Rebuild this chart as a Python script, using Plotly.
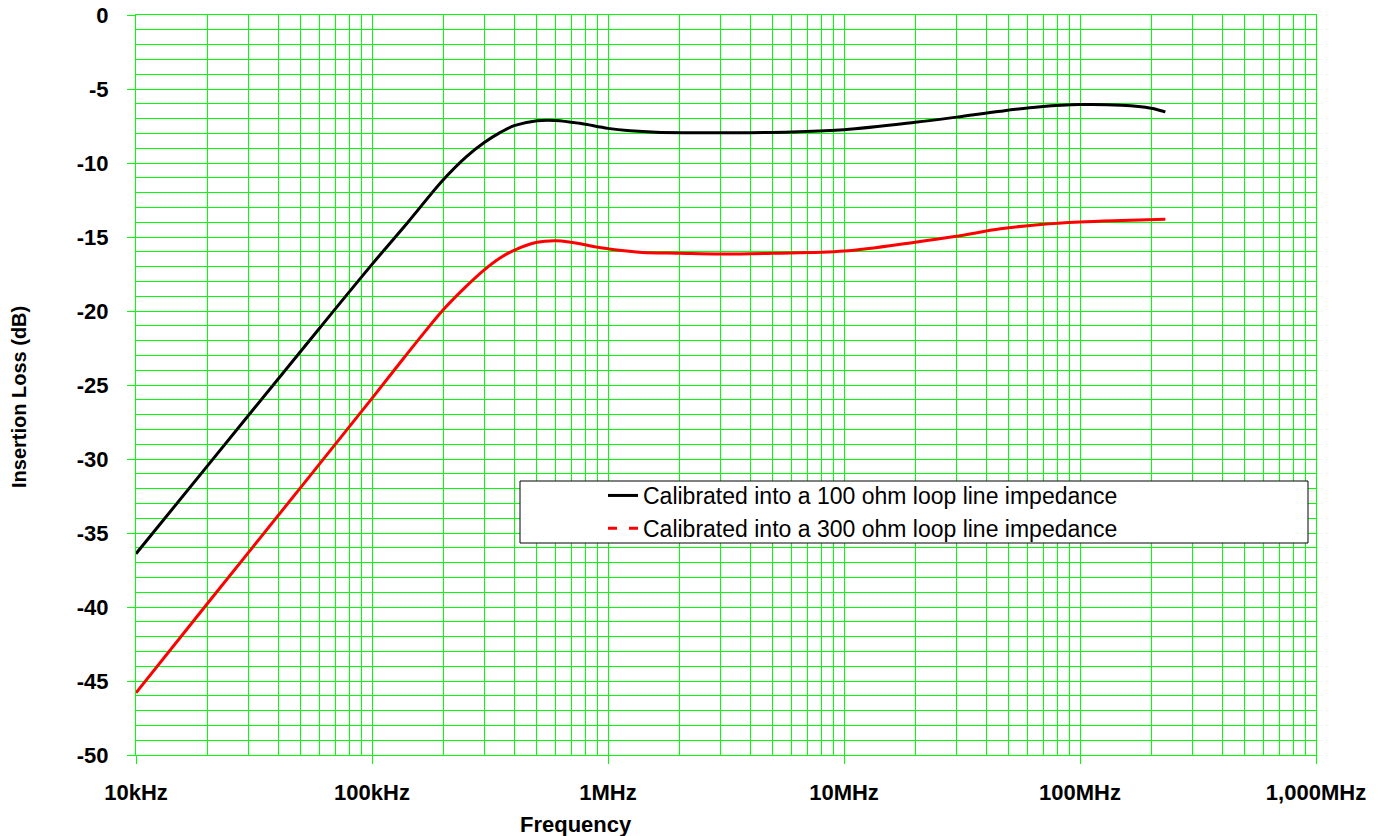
import plotly.graph_objects as go

# ---- data ----
freq_100 = [10e3, 20e3, 50e3, 100e3, 142e3, 200e3, 250e3, 300e3, 350e3, 400e3, 500e3, 600e3,
            760e3, 1e6, 1.24e6, 1.6e6, 2.2e6, 4e6, 6e6, 10e6, 20e6, 30e6, 46e6, 68e6, 100e6,
            150e6, 200e6, 230e6]
loss_100 = [-36.4, -30.5, -22.7, -16.85, -14.0, -11.15, -9.6, -8.6, -7.93, -7.48, -7.14, -7.12,
            -7.32, -7.66, -7.82, -7.92, -7.95, -7.95, -7.9, -7.75, -7.25, -6.9, -6.5, -6.2, -6.05,
            -6.1, -6.3, -6.55]

freq_300 = [10e3, 20e3, 50e3, 100e3, 130e3, 159e3, 200e3, 250e3, 300e3, 350e3, 400e3, 500e3, 600e3,
            700e3, 930e3, 1.2e6, 1.4e6, 2e6, 3e6, 5e6, 10e6, 20e6, 30e6, 46e6, 68e6, 100e6,
            150e6, 230e6]
loss_300 = [-45.8, -39.8, -31.9, -25.9, -23.6, -21.85, -19.93, -18.35, -17.2, -16.4, -15.9, -15.36, -15.25,
            -15.36, -15.72, -15.95, -16.05, -16.1, -16.15, -16.1, -15.95, -15.35, -14.95, -14.45, -14.15, -13.98,
            -13.88, -13.8]

series_names = ["Calibrated into a 100 ohm loop line impedance",
                "Calibrated into a 300 ohm loop line impedance"]

x_tickvals = [1e4, 1e5, 1e6, 1e7, 1e8, 1e9]
x_ticktext = ["10kHz", "100kHz", "1MHz", "10MHz", "100MHz", "1,000MHz"]
y_tickvals = [0, -5, -10, -15, -20, -25, -30, -35, -40, -45, -50]
y_ticktext = ["0", "-5", "-10", "-15", "-20", "-25", "-30", "-35", "-40", "-45", "-50"]

GREEN = "#00ff00"
FONT = "Liberation Sans"

W, H = 1390, 836
PL, PT, PR, PB = 136, 15, 1316, 755          # plot area in pixels
PW, PH = PR - PL, PB - PT


def px(xf):   # window x -> paper fraction
    return (xf - PL) / PW


def py(yf):   # window y -> paper fraction
    return (PB - yf) / PH


x_minor = [m * 10 ** e for e in range(4, 9) for m in range(2, 10)]

fig = go.Figure()
fig.add_trace(go.Scatter(x=freq_100, y=loss_100, mode="lines", name=series_names[0],
                         line=dict(color="black", width=3, shape="spline", smoothing=1.0)))
fig.add_trace(go.Scatter(x=freq_300, y=loss_300, mode="lines", name=series_names[1],
                         showlegend=False,
                         line=dict(color="#ff0000", width=3, shape="spline", smoothing=1.0)))
# legend entry for the red series (dashed sample as in the reference legend)
fig.add_trace(go.Scatter(x=[None], y=[None], mode="lines", name=series_names[1],
                         line=dict(color="#ff0000", width=3, dash="9px,12px")))

fig.update_xaxes(type="log", range=[4, 9],
                 tickvals=x_tickvals, ticktext=x_ticktext,
                 ticks="outside", ticklen=8, tickcolor=GREEN, tickwidth=1,
                 showgrid=True, gridcolor=GREEN, gridwidth=1,
                 minor=dict(tickvals=x_minor, showgrid=True, gridcolor=GREEN, gridwidth=1, ticks=""),
                 showline=True, linecolor=GREEN, linewidth=1, mirror=True,
                 zeroline=False, ticklabelstandoff=10, ticklabeloverflow="allow",
                 tickfont=dict(family=FONT, size=22, color="black", weight="bold"))
fig.update_yaxes(range=[-50, 0], tickvals=y_tickvals, ticktext=y_ticktext,
                 ticks="outside", ticklen=8, tickcolor=GREEN, tickwidth=1,
                 showgrid=True, gridcolor=GREEN, gridwidth=1,
                 minor=dict(dtick=1, showgrid=True, gridcolor=GREEN, gridwidth=1, ticks=""),
                 showline=True, linecolor=GREEN, linewidth=1, mirror=True,
                 zeroline=False, ticklabelstandoff=14, ticklabeloverflow="allow",
                 tickfont=dict(family=FONT, size=22, color="black", weight="bold"))

fig.update_layout(
    width=W, height=H,
    margin=dict(l=PL, r=W - PR, t=PT, b=H - PB, autoexpand=False),
    plot_bgcolor="white", paper_bgcolor="white",
    font=dict(family=FONT, color="black"),
    showlegend=True,
    shapes=[dict(type="rect", xref="paper", yref="paper", layer="above",
                 x0=px(520), x1=px(1308), y0=py(543), y1=py(481),
                 fillcolor="white", line=dict(color="black", width=1))],
    legend=dict(x=px(603), y=py(474), xanchor="left", yanchor="top",
                bgcolor="rgba(0,0,0,0)", borderwidth=0,
                font=dict(family=FONT, size=23, color="black"),
                tracegroupgap=0),
    annotations=[
        dict(text="Frequency", xref="paper", yref="paper", x=px(576), y=py(824),
             xanchor="center", yanchor="middle", showarrow=False,
             font=dict(family=FONT, size=22, color="black", weight="bold")),
        dict(text="Insertion Loss (dB)", xref="paper", yref="paper", x=px(19),
             y=py(397), xanchor="center", yanchor="middle", textangle=-90,
             showarrow=False, font=dict(family=FONT, size=20, color="black", weight="bold")),
    ],
)

fig.write_html("out.html", config={"displayModeBar": False},
               post_script="document.body.style.margin='0px'; document.body.style.overflow='hidden';")
